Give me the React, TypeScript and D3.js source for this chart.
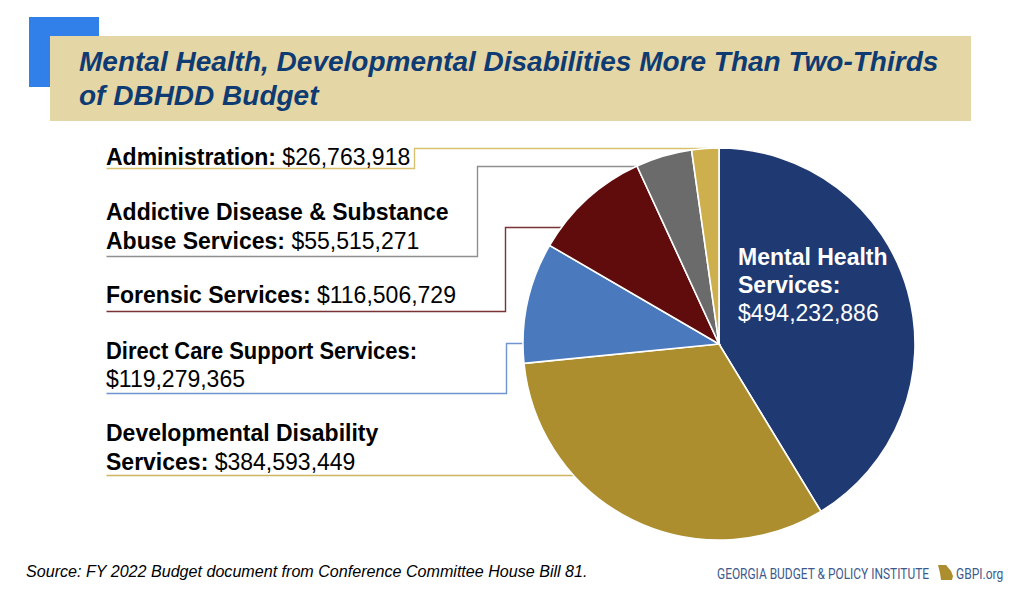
import React from "react";
import * as d3 from "d3";

const categories = ["Mental Health Services", "Developmental Disability Services", "Direct Care Support Services", "Forensic Services", "Addictive Disease & Substance Abuse Services", "Administration"];
const budgetValues = [494232886, 384593449, 119279365, 116506729, 55515271, 26763918];
const sliceColors = ["#1f3a72", "#ac8e2f", "#4a7abd", "#600c0d", "#6b6b6b", "#cdb04d"];
const leaderColors = ["", "#cdb55f", "#6f94cf", "#7a3335", "#8f8f8f", "#d9c26f"];
const leaderPaths = [
  [],
  [[106, 475], [578, 475]],
  [[106, 393], [506, 393], [506, 343], [526, 343]],
  [[106, 311], [505, 311], [505, 227], [566, 227]],
  [[106, 256], [477, 256], [477, 166], [640, 166]],
  [[106, 168], [414, 168], [414, 148], [706, 148]],
];
const fmt = d3.format("$,");

const FONT = "'Liberation Sans', Arial, sans-serif";

export default function App() {
  const cx = 719, cy = 344, r = 196;
  const pie = d3.pie<number>().sort(null).value((d) => d);
  const arc = d3.arc<d3.PieArcDatum<number>>().innerRadius(0).outerRadius(r);
  const arcs = pie(budgetValues);
  const line = d3.line();
  const ts = { fontFamily: FONT, fontSize: 23, fill: "#000" } as const;
  return (
    <svg width={1024} height={591} style={{ position: "absolute", left: 0, top: 0, background: "#fff" }}>
      <rect x={29} y={17} width={70} height={70} fill="#3180ea" />
      <rect x={50} y={36} width={921} height={85} fill="#e5d6a6" />
      <g fontFamily={FONT} fontSize={28} fontWeight="bold" fontStyle="italic" fill="#0f3b73">
        <text x={79} y={71}>Mental Health, Developmental Disabilities More Than Two-Thirds</text>
        <text x={79} y={105}>of DBHDD Budget</text>
      </g>

      <g transform="translate(0.5,0.5)">
        {leaderPaths.map((p, i) =>
          p.length ? (
            <path key={i} d={line(p as [number, number][]) || ""} fill="none" stroke={leaderColors[i]} strokeWidth={1.4} />
          ) : null
        )}
      </g>

      <g transform={`translate(${cx},${cy})`}>
        {arcs.map((a, i) => (
          <path key={categories[i]} d={arc(a) || ""} fill={sliceColors[i]} stroke="#fff" strokeWidth={1.6} />
        ))}
      </g>

      <g {...ts}>
        <text x={106} y={165}><tspan fontWeight="bold">Administration:</tspan> {fmt(budgetValues[5])}</text>
        <text x={106} y={220} fontWeight="bold">Addictive Disease &amp; Substance</text>
        <text x={106} y={249}><tspan fontWeight="bold">Abuse Services:</tspan> {fmt(budgetValues[4])}</text>
        <text x={106} y={303}><tspan fontWeight="bold">Forensic Services:</tspan> {fmt(budgetValues[3])}</text>
        <text x={106} y={359} fontWeight="bold" textLength={311} lengthAdjust="spacingAndGlyphs">Direct Care Support Services:</text>
        <text x={106} y={387}>{fmt(budgetValues[2])}</text>
        <text x={106} y={441} fontWeight="bold">Developmental Disability</text>
        <text x={106} y={470}><tspan fontWeight="bold">Services:</tspan> {fmt(budgetValues[1])}</text>
      </g>
      <g {...ts} fill="#fff">
        <text x={738} y={265} fontWeight="bold">Mental Health</text>
        <text x={738} y={293} fontWeight="bold">Services:</text>
        <text x={738} y={321}>{fmt(budgetValues[0])}</text>
      </g>

      <text x={26} y={577} fontFamily={FONT} fontSize={16.1} fontStyle="italic" fill="#000">
        Source: FY 2022 Budget document from Conference Committee House Bill 81.
      </text>
      <g fontFamily="'Roboto', 'Liberation Sans', sans-serif" fontSize={14} fill="#3d5a8c">
        <text transform="translate(717,579) scale(0.853,1)">GEORGIA BUDGET &amp; POLICY INSTITUTE</text>
        <text transform="translate(956,579) scale(0.86,1)">GBPI.org</text>
      </g>
      <path d="M938,565 L946,565 L951,571 L953,576 L952,580 L941,580 L940,573 Z" fill="#ac8e2f" />
    </svg>
  );
}
